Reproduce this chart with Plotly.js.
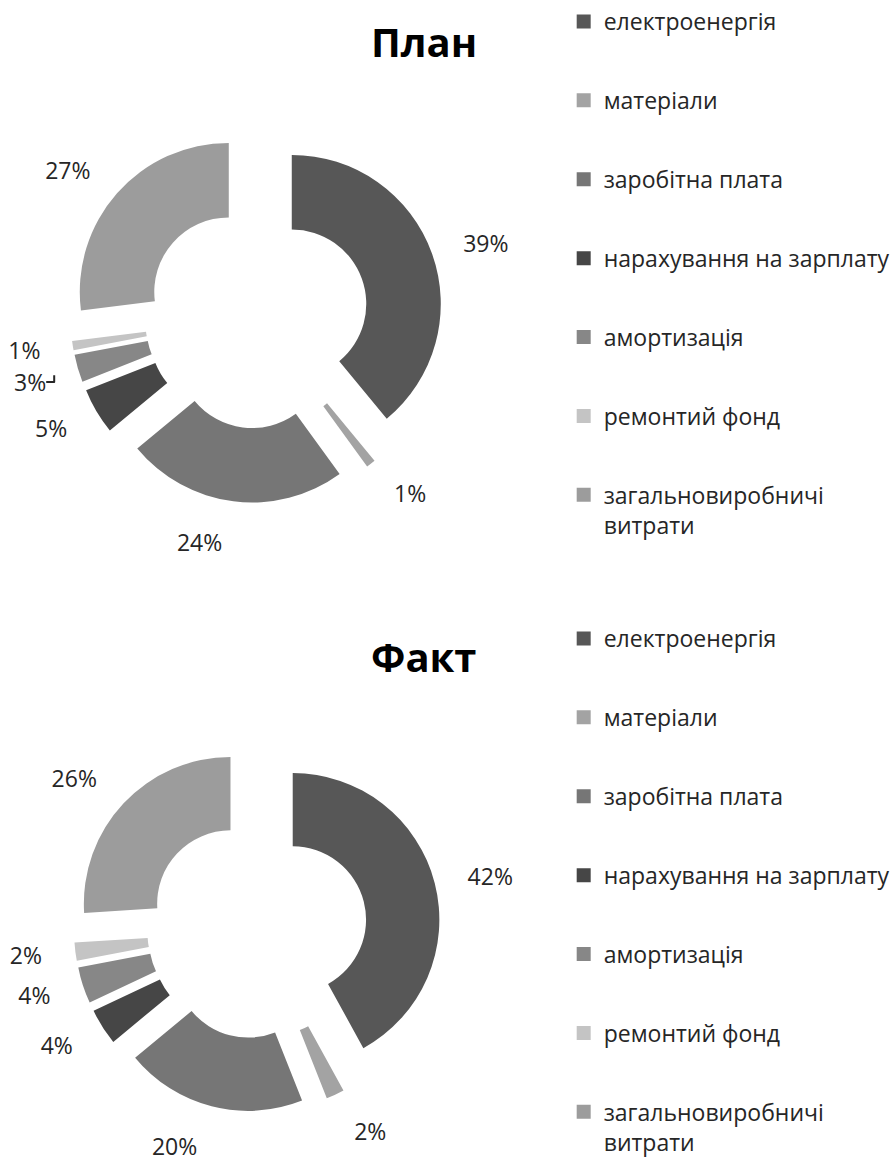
<!DOCTYPE html>
<html>
<head>
<meta charset="utf-8">
<script src="https://cdn.plot.ly/plotly-3.0.1.min.js"></script>
<style>html,body{margin:0;padding:0;background:#fff;}#chart{width:895px;height:1164px;}</style>
</head>
<body>
<div id="chart"></div>
<script>
const categories = ["електроенергія", "матеріали", "заробітна плата", "нарахування на зарплату", "амортизація", "ремонтий фонд", "загальновиробничі витрати"];
const legendNames = ["електроенергія", "матеріали", "заробітна плата", "нарахування на зарплату", "амортизація", "ремонтий фонд", "загальновиробничі<br>витрати"];
const planValues = [39, 1, 24, 5, 3, 1, 27];
const factValues = [42, 2, 20, 4, 4, 2, 26];
const sliceColors = ["#575757", "#a3a3a3", "#767676", "#464646", "#878787", "#c4c4c4", "#9c9c9c"];
const titles = ["План", "Факт"];

const W = 895, H = 1164;
const FONT = "Open Sans, Noto Sans, DejaVu Sans, sans-serif";
const pull = 0.25;

function dom(cx, cy, half) {
  return {x: [(cx - half) / W, (cx + half) / W], y: [(H - cy - half) / H, (H - cy + half) / H]};
}

function pieTrace(values, cx, cy, half) {
  return {
    type: "pie",
    labels: categories,
    values: values,
    sort: false,
    direction: "clockwise",
    rotation: 0,
    hole: 0.5,
    pull: values.map(() => pull),
    marker: {colors: sliceColors, line: {width: 0}},
    textinfo: "none",
    showlegend: false,
    hoverinfo: "label+percent",
    domain: dom(cx, cy, half)
  };
}

// transparent ring that carries the percentage labels a little further out
function labelTrace(values, cx, cy, half) {
  return {
    type: "pie",
    labels: categories,
    values: values,
    sort: false,
    direction: "clockwise",
    rotation: 0,
    hole: 0.95,
    marker: {colors: values.map(() => "rgba(0,0,0,0)"), line: {width: 0}},
    textinfo: "percent",
    textposition: "outside",
    outsidetextfont: {family: FONT, size: 23, color: "#262626"},
    showlegend: false,
    hoverinfo: "skip",
    domain: dom(cx, cy, half)
  };
}

const traces = [
  pieTrace(planValues, 260.5, 319, 189),
  pieTrace(factValues, 261, 936, 186),
  labelTrace(planValues, 260.5, 319, 214),
  labelTrace(factValues, 261, 936, 212)
];

["legend", "legend2"].forEach(function (lg) {
  categories.forEach(function (c, i) {
    traces.push({
      type: "scatter", mode: "markers", x: [null], y: [null],
      name: legendNames[i], legend: lg, legendgroup: lg + i,
      marker: {symbol: "square", size: 14, color: sliceColors[i]},
      hoverinfo: "skip"
    });
  });
});

const legendBase = {
  x: 572 / W, xanchor: "left", yanchor: "top",
  font: {family: FONT, size: 23, color: "#262626"},
  tracegroupgap: 46, valign: "top", bgcolor: "rgba(0,0,0,0)",
  itemclick: false
};

const layout = {
  width: W, height: H,
  margin: {l: 0, r: 0, t: 0, b: 0},
  paper_bgcolor: "#ffffff", plot_bgcolor: "#ffffff",
  xaxis: {visible: false, range: [0, 1]},
  yaxis: {visible: false, range: [0, 1]},
  legend: Object.assign({}, legendBase, {y: 1 - 0 / H}),
  legend2: Object.assign({}, legendBase, {y: 1 - 622 / H}),
  annotations: [
    {text: "<b>" + titles[0] + "</b>", xref: "paper", yref: "paper", x: 430 / W, y: 1 - 42 / H, xanchor: "center", yanchor: "middle", showarrow: false, font: {family: FONT, size: 40, color: "#000"}},
    {text: "<b>" + titles[1] + "</b>", xref: "paper", yref: "paper", x: 430 / W, y: 1 - 662 / H, xanchor: "center", yanchor: "middle", showarrow: false, font: {family: FONT, size: 40, color: "#000"}}
  ],
  showlegend: true
};

Plotly.newPlot("chart", traces, layout, {displayModeBar: false, staticPlot: true});
</script>
</body>
</html>
